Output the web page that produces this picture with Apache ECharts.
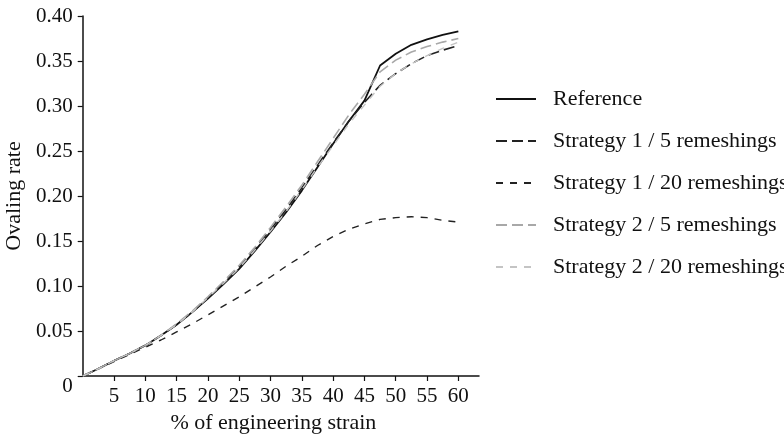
<!DOCTYPE html>
<html>
<head>
<meta charset="utf-8">
<script src="https://cdn.jsdelivr.net/npm/echarts@6/dist/echarts.min.js"></script>
<style>
  html, body { margin: 0; padding: 0; background: #ffffff; }
  #chart { width: 784px; height: 434px; }
</style>
</head>
<body>
<div id="chart"></div>
<script>
// Engineering strain (%) at which the ovaling rate was sampled
const strain = [0, 2.5, 5, 7.5, 10, 12.5, 15, 17.5, 20, 22.5, 25, 27.5, 30,
                32.5, 35, 37.5, 40, 42.5, 45, 47.5, 50, 52.5, 55, 57.5, 60];

const reference = [0, 0.008, 0.017, 0.025, 0.034, 0.045, 0.057, 0.071, 0.086, 0.102, 0.119, 0.139, 0.160,
                   0.182, 0.206, 0.232, 0.258, 0.283, 0.306, 0.345, 0.358, 0.368, 0.374, 0.379, 0.383];
const strat1Remesh5 = [0, 0.008, 0.017, 0.025, 0.034, 0.045, 0.057, 0.071, 0.087, 0.104, 0.121, 0.141, 0.163,
                       0.185, 0.209, 0.234, 0.259, 0.283, 0.304, 0.323, 0.336, 0.347, 0.356, 0.362, 0.367];
const strat1Remesh20 = [0, 0.008, 0.016, 0.024, 0.032, 0.040, 0.049, 0.058, 0.068, 0.078, 0.088, 0.099, 0.110,
                        0.122, 0.133, 0.145, 0.155, 0.163, 0.169, 0.174, 0.176, 0.177, 0.176, 0.173, 0.171];
const strat2Remesh5 = [0, 0.008, 0.017, 0.025, 0.034, 0.045, 0.058, 0.072, 0.088, 0.105, 0.123, 0.143, 0.165,
                       0.188, 0.212, 0.238, 0.264, 0.290, 0.313, 0.338, 0.351, 0.360, 0.366, 0.371, 0.375];
const strat2Remesh20 = [0, 0.008, 0.017, 0.025, 0.034, 0.045, 0.057, 0.071, 0.087, 0.103, 0.120, 0.140, 0.161,
                        0.183, 0.207, 0.232, 0.256, 0.280, 0.301, 0.322, 0.336, 0.347, 0.356, 0.364, 0.371];

const seriesNames = ['Reference', 'Strategy 1 / 5 remeshings', 'Strategy 1 / 20 remeshings',
                     'Strategy 2 / 5 remeshings', 'Strategy 2 / 20 remeshings'];
const xTickValues = [5, 10, 15, 20, 25, 30, 35, 40, 45, 50, 55, 60];

const FONT = '"Liberation Serif", "Times New Roman", serif';

function pairs(ys) {
  return strain.map((x, i) => [x, ys[i]]);
}

function lineSeries(name, ys, color, width, dash) {
  return {
    name: name,
    type: 'line',
    data: pairs(ys),
    showSymbol: false,
    symbol: 'none',
    smooth: false,
    animation: false,
    lineStyle: { color: color, width: width, type: dash },
    itemStyle: { color: color },
    z: 2
  };
}

const chart = echarts.init(document.getElementById('chart'), null, { renderer: 'canvas' });

chart.setOption({
  backgroundColor: '#ffffff',
  animation: false,
  grid: { left: 82.7, right: 305, top: 16, bottom: 58, containLabel: false, outerBoundsMode: 'none' },
  legend: {
    orient: 'vertical',
    left: 490,
    top: 83,
    padding: 5,
    itemWidth: 40,
    itemHeight: 14,
    itemGap: 20,
    // keep only the line sample in each legend key, no marker
    itemStyle: { opacity: 0 },
    textStyle: { fontFamily: FONT, fontSize: 22, color: '#111', padding: [0, 0, 0, 12] },
    data: seriesNames
  },
  xAxis: {
    type: 'value',
    min: 0,
    max: 63.3,
    interval: 5,
    name: '% of engineering strain',
    nameLocation: 'middle',
    nameGap: 30,
    nameTextStyle: { fontFamily: FONT, fontSize: 22, color: '#111', padding: [0, 15, 0, 0] },
    axisLine: { show: true, lineStyle: { color: '#111', width: 1.5 } },
    axisTick: { show: true, length: 5, lineStyle: { color: '#111', width: 1.2 }, customValues: xTickValues },
    axisLabel: { fontFamily: FONT, fontSize: 21, color: '#111', margin: 10, customValues: xTickValues },
    splitLine: { show: false }
  },
  yAxis: {
    type: 'value',
    min: 0,
    max: 0.4,
    interval: 0.05,
    name: 'Ovaling rate',
    nameLocation: 'middle',
    nameGap: 47,
    nameTextStyle: { fontFamily: FONT, fontSize: 22, color: '#111' },
    axisLine: { show: true, lineStyle: { color: '#111', width: 1.5 } },
    axisTick: { show: true, length: 5, lineStyle: { color: '#111', width: 1.2 } },
    axisLabel: {
      fontFamily: FONT, fontSize: 21, color: '#111', margin: 10,
      formatter: v => (v === 0 ? '{o|0}' : v.toFixed(2)),
      rich: { o: { fontFamily: FONT, fontSize: 21, color: '#111', padding: [20, 0, 0, 0] } }
    },
    splitLine: { show: false }
  },
  series: [
    lineSeries(seriesNames[0], reference, '#111111', 1.8, 'solid'),
    lineSeries(seriesNames[1], strat1Remesh5, '#222222', 1.6, [11, 5]),
    lineSeries(seriesNames[2], strat1Remesh20, '#222222', 1.4, [7, 7]),
    lineSeries(seriesNames[3], strat2Remesh5, '#a8a8a8', 1.6, [11, 5]),
    lineSeries(seriesNames[4], strat2Remesh20, '#c4c4c4', 1.4, [7, 7])
  ]
});
</script>
</body>
</html>
